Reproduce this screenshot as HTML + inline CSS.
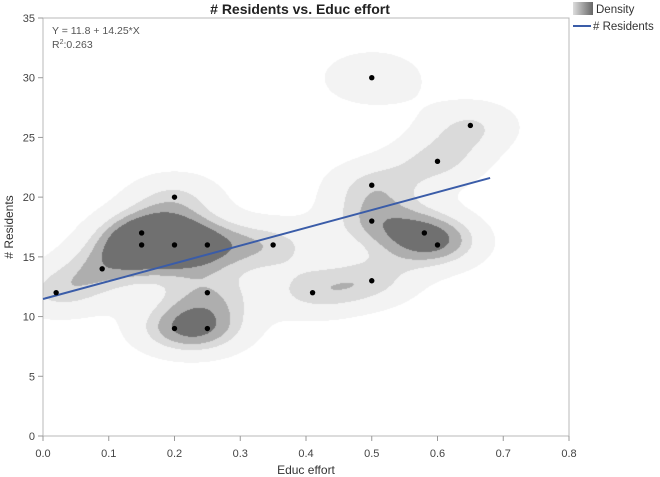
<!DOCTYPE html>
<html><head><meta charset="utf-8"><style>
body{margin:0;background:#fff;font-family:"Liberation Sans",sans-serif;}
#wrap{position:relative;width:660px;height:477px;overflow:hidden;}
canvas,svg{position:absolute;left:0;top:0;}
</style></head><body>
<div id="wrap">
<canvas id="dens" width="660" height="477"></canvas>
<svg id="svg" width="660" height="477"></svg>
</div>
<script>
const xs=[0.02,0.09,0.15,0.15,0.2,0.2,0.25,0.2,0.25,0.25,0.35,0.41,0.5,0.5,0.5,0.5,0.58,0.6,0.6,0.65];
const ys=[12,14,17,16,20,16,16,9,9,12,16,12,13,30,21,18,17,16,23,26];
const xTicks=[0,0.1,0.2,0.3,0.4,0.5,0.6,0.7,0.8];
const xTickLabels=["0.0","0.1","0.2","0.3","0.4","0.5","0.6","0.7","0.8"];
const yTicks=[0,5,10,15,20,25,30,35];
const L=43,R=569,T=18,B=436;
const X=v=>L+(v-0)/(0.8)*(R-L);
const Y=v=>B-(v/35)*(B-T);
const NS="http://www.w3.org/2000/svg";
const svg=document.getElementById('svg');
function mk(tag,attrs,name,inter){const e=document.createElementNS(NS,tag);for(const k in attrs)e.setAttribute(k,attrs[k]);


svg.appendChild(e);return e;}
// density
const cv=document.getElementById('dens'),ctx=cv.getContext('2d');
const img=ctx.createImageData(660,477);
const hx=0.055,hy=1.65,th=[0.42,1.03,1.38,1.75],cols=[243,218,174,112];
for(let py=T;py<B;py++)for(let px=L;px<R;px++){
 const vx=(px-L)/(R-L)*0.8, vy=(B-py)/(B-T)*35;let d=0;
 for(let i=0;i<xs.length;i++){const a=(vx-xs[i])/hx,b=(vy-ys[i])/hy;d+=Math.exp(-0.5*(a*a+b*b));}
 let c=255;for(let k=0;k<4;k++)if(d>=th[k])c=cols[k];
 const o=(py*660+px)*4;img.data[o]=img.data[o+1]=img.data[o+2]=c;img.data[o+3]=255;}
ctx.putImageData(img,0,0);
// frame & ticks
mk('rect',{x:L,y:T,width:R-L,height:B-T,fill:'none',stroke:'#b8b8b8','stroke-width':1},'plot-frame');
xTicks.forEach((t,i)=>{mk('line',{x1:X(t),x2:X(t),y1:B,y2:B+5,stroke:'#999'},'x-tick');
 const tx=mk('text',{x:X(t),y:B+21,'text-anchor':'middle','font-size':11,fill:'#444'},'x-tick-label');tx.textContent=xTickLabels[i];});
yTicks.forEach(t=>{mk('line',{x1:L-5,x2:L,y1:Y(t),y2:Y(t),stroke:'#999'},'y-tick');
 const tx=mk('text',{x:L-8,y:Y(t)+4,'text-anchor':'end','font-size':11,fill:'#444'},'y-tick-label');tx.textContent=t;});
// regression
const n=xs.length,mx=xs.reduce((a,b)=>a+b)/n,my=ys.reduce((a,b)=>a+b)/n;
let sxy=0,sxx=0;for(let i=0;i<n;i++){sxy+=(xs[i]-mx)*(ys[i]-my);sxx+=(xs[i]-mx)**2;}
const sl=sxy/sxx,ic=my-sl*mx;
mk('line',{x1:X(0),y1:Y(ic),x2:X(0.68),y2:Y(ic+sl*0.68),stroke:'#3a5ca8','stroke-width':2},'regression-line');
xs.forEach((v,i)=>mk('circle',{cx:X(v),cy:Y(ys[i]),r:2.7,fill:'#000'},'data-point'));
// texts
let t;
t=mk('text',{x:300,y:14,'text-anchor':'middle','font-size':14,'font-weight':'bold',fill:'#222'},'chart-title');t.textContent='# Residents vs. Educ effort';
t=mk('text',{x:52,y:34,'font-size':10.5,fill:'#555'},'fit-equation');t.textContent='Y = 11.8 + 14.25*X';
t=mk('text',{x:52,y:48,'font-size':10.5,fill:'#555'},'r-squared');t.innerHTML='R<tspan font-size="7" dy="-4">2</tspan><tspan dy="4">:0.263</tspan>';
t=mk('text',{x:306,y:474,'text-anchor':'middle','font-size':12,fill:'#333'},'x-axis-title');t.textContent='Educ effort';
t=mk('text',{x:13,y:227,'text-anchor':'middle','font-size':12,fill:'#333',transform:'rotate(-90 13 227)'},'y-axis-title');t.textContent='# Residents';
// legend
const defs=mk('defs',{},'defs');defs.innerHTML='<linearGradient id="g"><stop offset="0" stop-color="#ddd"/><stop offset="1" stop-color="#666"/></linearGradient>';
mk('rect',{x:573,y:2,width:20,height:13,fill:'url(#g)'},'legend-density-swatch');
t=mk('text',{x:596,y:13,'font-size':11.5,fill:'#333'},'legend-density-label');t.textContent='Density';
mk('line',{x1:573,x2:591,y1:26,y2:26,stroke:'#3a5ca8','stroke-width':2},'legend-residents-line');
t=mk('text',{x:593,y:30,'font-size':11.5,fill:'#333'},'legend-residents-label');t.textContent='# Residents';
</script></body></html>
